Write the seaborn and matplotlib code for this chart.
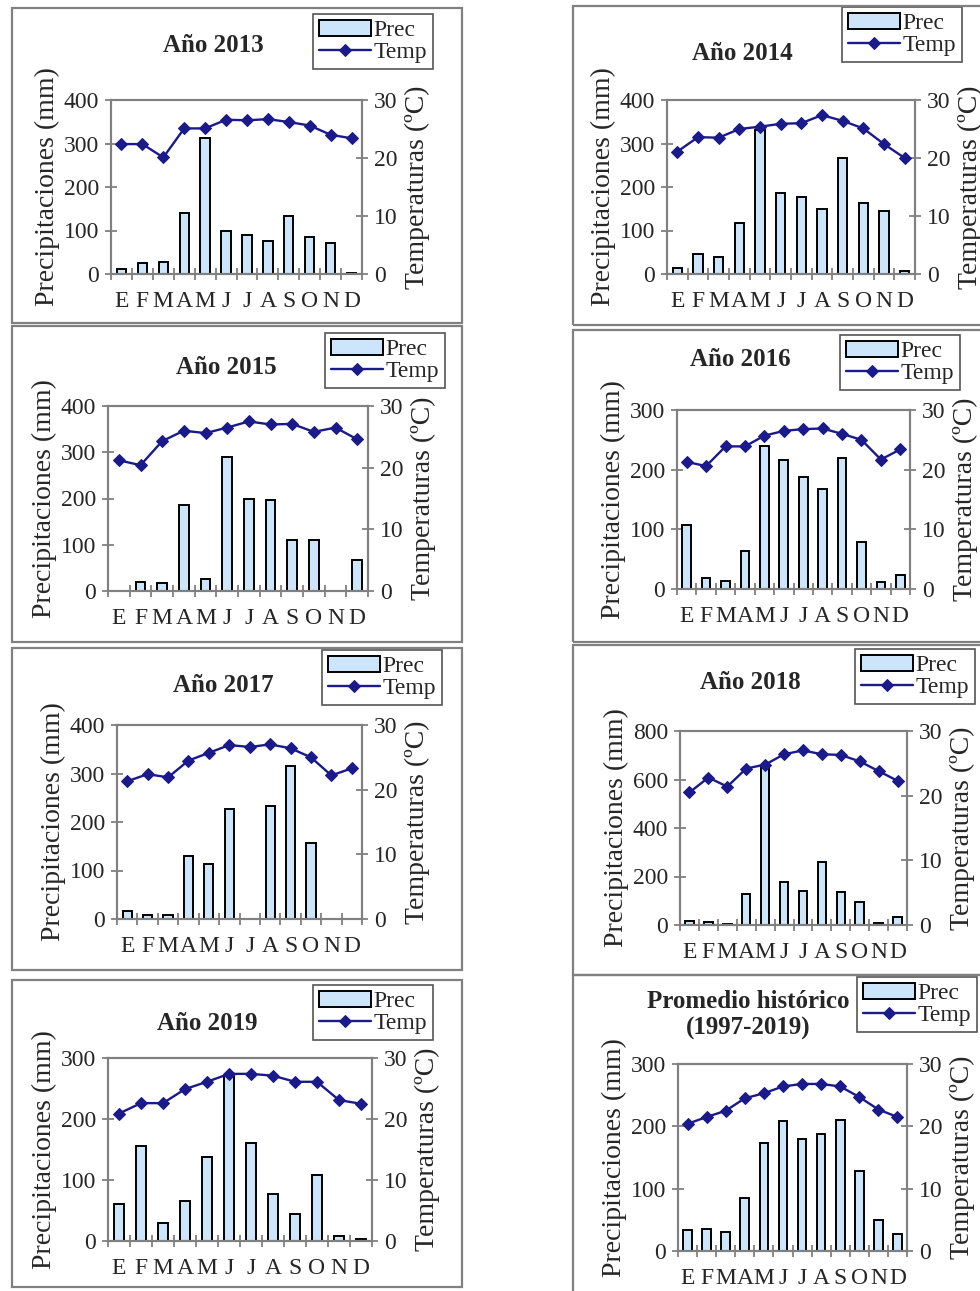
import numpy as np
import pandas as pd
import matplotlib
matplotlib.use('Agg')
import matplotlib.pyplot as plt
from matplotlib.patches import Rectangle
import seaborn as sns

# ---- data ----
months = ['E', 'F', 'M', 'A', 'M', 'J', 'J', 'A', 'S', 'O', 'N', 'D']

titles = ['Año 2013', 'Año 2014', 'Año 2015', 'Año 2016',
          'Año 2017', 'Año 2018', 'Año 2019', 'Promedio histórico\n(1997-2019)']

prec_2013 = [11, 25, 28, 141, 313, 98, 89, 77, 133, 84, 71, 3]
temp_2013 = [22.4, 22.4, 20.1, 25.1, 25.1, 26.6, 26.5, 26.7, 26.2, 25.6, 24.0, 23.4]

prec_2014 = [14, 46, 38, 117, 331, 186, 177, 149, 266, 164, 144, 8]
temp_2014 = [21.1, 23.6, 23.5, 25.0, 25.4, 25.9, 26.0, 27.4, 26.4, 25.1, 22.4, 20.0]

prec_2015 = [1, 19, 18, 187, 25, 289, 200, 197, 110, 110, 1, 66]
temp_2015 = [21.2, 20.4, 24.3, 26.0, 25.6, 26.5, 27.5, 27.0, 27.1, 25.8, 26.5, 24.6]

prec_2016 = [108, 18, 13, 63, 240, 217, 187, 168, 220, 78, 11, 24]
temp_2016 = [21.3, 20.6, 23.9, 23.9, 25.7, 26.5, 26.8, 26.9, 26.0, 25.0, 21.7, 23.4]

prec_2017 = [16, 8, 8, 129, 114, 226, 0, 233, 316, 156, 0, 0]
temp_2017 = [21.3, 22.4, 21.9, 24.5, 25.7, 26.9, 26.6, 27.0, 26.4, 25.0, 22.2, 23.3]

prec_2018 = [16, 11, 3, 126, 655, 179, 142, 258, 135, 96, 7, 34]
temp_2018 = [20.5, 22.8, 21.4, 24.2, 24.8, 26.4, 27.0, 26.4, 26.3, 25.3, 23.8, 22.3]

prec_2019 = [60, 156, 30, 66, 137, 272, 161, 77, 45, 108, 9, 3]
temp_2019 = [20.9, 22.6, 22.6, 24.9, 26.1, 27.4, 27.4, 27.1, 26.1, 26.1, 23.1, 22.5]

prec_hist = [33, 36, 30, 85, 173, 209, 179, 187, 210, 129, 50, 28]
temp_hist = [20.4, 21.5, 22.5, 24.5, 25.3, 26.4, 26.8, 26.8, 26.4, 24.7, 22.7, 21.5]

prec_series = [prec_2013, prec_2014, prec_2015, prec_2016,
               prec_2017, prec_2018, prec_2019, prec_hist]
temp_series = [temp_2013, temp_2014, temp_2015, temp_2016,
               temp_2017, temp_2018, temp_2019, temp_hist]
prec_max = [400, 400, 400, 300, 400, 800, 300, 300]
prec_step = [100, 100, 100, 100, 100, 200, 100, 100]

# ---- layout (pixels in a 980 x 1291 canvas) ----
W, H = 980, 1291
axes_px = [(111, 100, 362, 274), (667, 100, 915, 274),
           (108, 406, 368, 591), (677, 410, 910, 589),
           (117, 725, 362, 919), (680, 731, 907, 925),
           (108, 1058, 372, 1241), (678, 1064, 907, 1251)]
box_px = [(12, 8, 462, 323), (573, 6, 990, 325),
          (12, 326, 462, 642), (573, 330, 990, 642),
          (12, 648, 462, 970), (573, 645, 990, 975),
          (12, 980, 462, 1287), (573, 975, 990, 1295)]
title_px = [(213, 46), (742, 53), (226, 367), (740, 359),
            (223, 686), (750, 683), (207, 1023), (748, 1015)]
legend_px = [(313, 14), (842, 7), (325, 333), (840, 335),
             (322, 650), (855, 649), (313, 985), (857, 977)]

BAR = '#cce5fa'
LINE = '#1a1a8a'
GRAY = '#808080'

sns.set_style('ticks')
plt.rcParams['font.family'] = ['Liberation Serif', 'DejaVu Serif']


def fig_rect(l, t, r, b):
    return [l / W, 1 - b / H, (r - l) / W, (b - t) / H]


fig = plt.figure(figsize=(9.8, 12.91), dpi=100)

for i in range(8):
    df = pd.DataFrame({'mes': np.arange(12), 'prec': prec_series[i], 'temp': temp_series[i]})

    # panel border
    l, t, r, b = box_px[i]
    fig.add_artist(Rectangle((l / W, 1 - b / H), (r - l) / W, (b - t) / H,
                             transform=fig.transFigure, fill=False,
                             edgecolor=GRAY, linewidth=1.6))

    ax = fig.add_axes(fig_rect(*axes_px[i]))
    sns.barplot(data=df, x='mes', y='prec', ax=ax, color=BAR, saturation=1,
                edgecolor='black', linewidth=1.4, width=0.45, label='Prec')
    ax2 = ax.twinx()
    sns.lineplot(data=df, x='mes', y='temp', ax=ax2, color=LINE, marker='D',
                 markersize=6, markeredgecolor=LINE, linewidth=1.7, label='Temp')

    ax.set_xlim(-0.5, 11.5)
    ax.set_ylim(0, prec_max[i])
    ax.set_yticks(np.arange(0, prec_max[i] + 1, prec_step[i]))
    ax2.set_ylim(0, 30)
    ax2.set_yticks([0, 10, 20, 30])

    ax.set_xticks(range(12))
    ax.set_xticklabels(months)
    ax.set_xticks(np.arange(-0.5, 12, 1), minor=True)
    ax.tick_params(axis='x', which='major', length=0, pad=12, labelsize=17)
    ax.tick_params(axis='x', which='minor', length=9, direction='inout', color=GRAY, width=1.3)
    ax.tick_params(axis='y', length=9, direction='inout', color=GRAY, width=1.3, labelsize=17, pad=4)
    ax2.tick_params(axis='y', length=9, direction='inout', color=GRAY, width=1.3, labelsize=17, pad=4)

    ax.set_xlabel('')
    ax.set_ylabel('Precipitaciones (mm)', fontsize=20, labelpad=3)
    ax2.set_ylabel('Temperaturas (ºC)', fontsize=20, labelpad=5)

    for a in (ax, ax2):
        for s in a.spines.values():
            s.set_visible(True)
            s.set_color(GRAY)
            s.set_linewidth(1.5)

    cx, cy = title_px[i]
    fig.text(cx / W, 1 - cy / H, titles[i], ha='center', va='center',
             fontsize=18, fontweight='bold', linespacing=1.15)

    h1, l1 = ax.get_legend_handles_labels()
    h2, l2 = ax2.get_legend_handles_labels()
    if ax.get_legend() is not None:
        ax.get_legend().remove()
    lx, ly = legend_px[i]
    leg = ax2.legend(h1 + h2, l1 + l2, loc='upper left',
                     bbox_to_anchor=(lx / W, 1 - ly / H), bbox_transform=fig.transFigure,
                     borderaxespad=0, fancybox=False, edgecolor='#555555', framealpha=1,
                     fontsize=17, handlelength=2.2, handletextpad=0.1,
                     labelspacing=0.0, borderpad=0.25)
    leg.get_frame().set_linewidth(1.2)

fig.savefig('out.png', dpi=100)
